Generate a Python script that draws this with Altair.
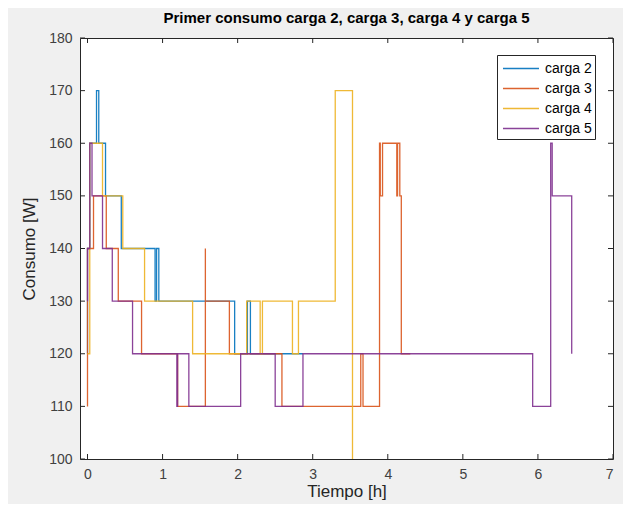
import altair as alt
import pandas as pd

# ---- data (time in hours, power in W) ----
series_names = ["carga 2", "carga 3", "carga 4", "carga 5"]
series_colors = ["#0072BD", "#D95319", "#EDB120", "#7E2F8E"]

t2 = [0.0, 0.0, 0.03, 0.03, 0.12, 0.12, 0.15, 0.15, 0.24, 0.24, 0.45, 0.45, 0.90, 0.90,
      0.92, 0.92, 0.95, 0.95, 1.96, 1.96, 2.13, 2.13, 2.17, 2.17, 2.87]
v2 = [120, 140, 140, 160, 160, 170, 170, 160, 160, 150, 150, 140, 140, 130,
      130, 140, 140, 130, 130, 120, 120, 130, 130, 120, 120]

t3 = [0.0, 0.0, 0.08, 0.08, 0.25, 0.25, 0.41, 0.41, 0.72, 0.72, 1.20, 1.20, 1.57, 1.57,
      1.57, 1.89, 1.89, 2.59, 2.59, 3.64, 3.64, 3.67, 3.67, 3.89, 3.89, 3.90, 3.90, 3.93,
      3.93, 4.12, 4.12, 4.13, 4.13, 4.16, 4.16, 4.18, 4.18, 4.30]
v3 = [110, 140, 140, 150, 150, 140, 140, 130, 130, 120, 120, 110, 110, 140,
      130, 130, 120, 120, 110, 110, 120, 120, 110, 110, 160, 160, 150, 150,
      160, 160, 150, 150, 160, 160, 150, 150, 120, 120]

t4 = [0.0, 0.03, 0.03, 0.20, 0.20, 0.47, 0.47, 0.76, 0.76, 1.40, 1.40, 2.12, 2.12, 2.30,
      2.30, 2.33, 2.33, 2.73, 2.73, 2.81, 2.81, 3.30, 3.30, 3.53, 3.53]
v4 = [120, 120, 160, 160, 150, 150, 140, 140, 130, 130, 120, 120, 130, 130,
      120, 120, 130, 130, 120, 120, 130, 130, 170, 170, 100]

t5 = [0.0, 0.0, 0.03, 0.03, 0.06, 0.06, 0.20, 0.20, 0.33, 0.33, 0.60, 0.60, 1.19, 1.19,
      1.20, 1.20, 1.35, 1.35, 2.04, 2.04, 2.50, 2.50, 2.87, 2.87, 5.93, 5.93, 6.17, 6.17,
      6.19, 6.19, 6.45, 6.45]
v5 = [130, 140, 140, 160, 160, 150, 150, 140, 140, 130, 130, 120, 120, 110,
      110, 120, 120, 110, 110, 120, 120, 110, 110, 120, 120, 110, 110, 160,
      160, 150, 150, 120]

x_ticks = [0, 1, 2, 3, 4, 5, 6, 7]
y_ticks = [100, 110, 120, 130, 140, 150, 160, 170, 180]

title_text = "Primer consumo carga 2, carga 3, carga 4 y carga 5"
x_title = "Tiempo [h]"
y_title = "Consumo [W]"

# ---- build tables ----
rows = []
for name, ts, vs in zip(series_names, [t2, t3, t4, t5], [v2, v3, v4, v5]):
    for i, (t, v) in enumerate(zip(ts, vs)):
        rows.append({"serie": name, "t": t, "v": v, "i": i})
df = pd.DataFrame(rows)
xt = pd.DataFrame({"t": x_ticks})
yt = pd.DataFrame({"v": y_ticks})

W, H = 533, 421
xscale = alt.Scale(domain=[-0.1, 7], nice=False, zero=False)
yscale = alt.Scale(domain=[100, 180], nice=False, zero=False)
axis_col = "#262626"

x_axis = alt.Axis(values=x_ticks, grid=False, ticks=False, domain=False,
                  labelFontSize=14, labelColor="#404040", labelPadding=8,
                  labelFont="Liberation Sans", title=x_title, titleFontSize=17,
                  titleFontWeight="normal", titleColor=axis_col,
                  titleFont="Liberation Sans", titlePadding=2)
y_axis = alt.Axis(values=y_ticks, grid=False, ticks=False, domain=False,
                  labelFontSize=14, labelColor="#404040", labelPadding=8,
                  labelFont="Liberation Sans", title=y_title, titleFontSize=17,
                  titleFontWeight="normal", titleColor=axis_col,
                  titleFont="Liberation Sans", titlePadding=10)

lines = alt.Chart(df).mark_line(strokeWidth=1.3, clip=True, opacity=0.9).encode(
    x=alt.X("t:Q", scale=xscale, axis=x_axis, title=x_title),
    y=alt.Y("v:Q", scale=yscale, axis=y_axis, title=y_title),
    color=alt.Color("serie:N",
                    scale=alt.Scale(domain=series_names, range=series_colors),
                    legend=alt.Legend(title=None, orient="none", legendX=417, legendY=17,
                                      fillColor="white", strokeColor=axis_col,
                                      padding=3, labelFontSize=14,
                                      labelFont="Liberation Sans", labelColor="#000000",
                                      symbolType="M-0.79,0H3", symbolStrokeWidth=1.5,
                                      symbolFillColor="transparent",
                                      symbolSize=361, rowPadding=2, labelOffset=24)),
    order="i:Q",
)

tick_x_bottom = alt.Chart(xt).mark_rule(color=axis_col).encode(
    x=alt.X("t:Q", scale=xscale, axis=x_axis, title=x_title), y=alt.value(H), y2=alt.value(H - 5))
tick_x_top = alt.Chart(xt).mark_rule(color=axis_col).encode(
    x=alt.X("t:Q", scale=xscale, axis=x_axis, title=x_title), y=alt.value(0), y2=alt.value(5))
tick_y_left = alt.Chart(yt).mark_rule(color=axis_col).encode(
    y=alt.Y("v:Q", scale=yscale, axis=y_axis, title=y_title), x=alt.value(0), x2=alt.value(5))
tick_y_right = alt.Chart(yt).mark_rule(color=axis_col).encode(
    y=alt.Y("v:Q", scale=yscale, axis=y_axis, title=y_title), x=alt.value(W), x2=alt.value(W - 5))

chart = alt.layer(lines, tick_x_bottom, tick_x_top, tick_y_left, tick_y_right).properties(
    width=W, height=H,
    title=alt.TitleParams(title_text, fontSize=15, fontWeight="bold", font="Liberation Sans",
                          color="#000000", anchor="middle", offset=5),
    autosize=alt.AutoSizeParams(type="none"),
    padding={"left": 72, "top": 30, "right": 10, "bottom": 45},
    background="#f0f0f0",
).configure_view(stroke=axis_col, strokeWidth=1, fill="white")

chart.save("out.html", embed_options={"renderer": "svg", "actions": False})
